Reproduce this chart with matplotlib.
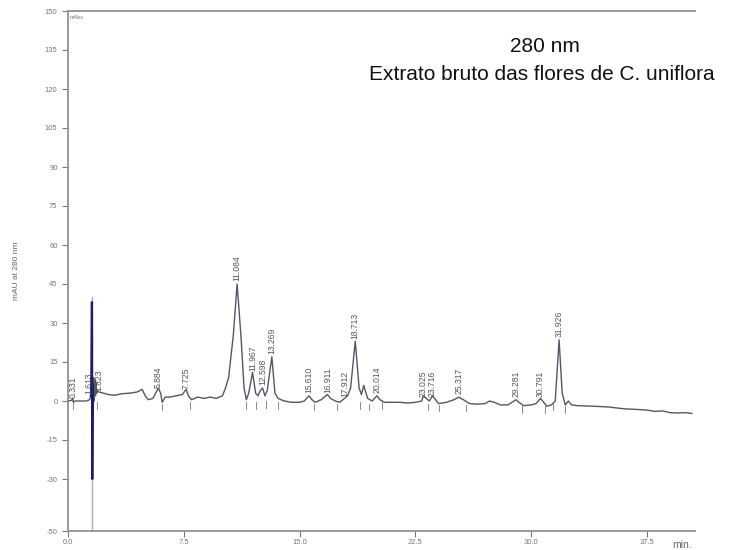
import matplotlib
matplotlib.use("Agg")
import matplotlib.pyplot as plt

# Chromatogram trace (time in min, absorbance in mAU)
trace_t = [0.0, 0.25, 0.3, 0.35, 0.45, 0.8, 1.2, 1.4, 1.48, 1.52, 1.55, 1.57, 1.6, 1.63, 1.66, 1.7, 1.74, 1.78,
           1.82, 1.86, 1.9, 2.0, 2.3, 2.6, 3.0, 3.5, 4.0, 4.5, 4.8, 5.0, 5.2, 5.5, 5.85, 6.0, 6.1, 6.3,
           6.6, 7.0, 7.4, 7.65, 7.8, 8.0, 8.4, 8.8, 9.2, 9.6, 10.0, 10.2, 10.4, 10.7, 10.95, 11.2, 11.4,
           11.55, 11.7, 11.95, 12.15, 12.3, 12.45, 12.6, 12.75, 12.9, 13.2, 13.4, 13.6, 14.0, 14.5, 15.0,
           15.3, 15.6, 15.8, 16.0, 16.4, 16.8, 17.0, 17.3, 17.6, 17.9, 18.1, 18.3, 18.6, 18.85, 19.0,
           19.15, 19.4, 19.7, 20.0, 20.2, 20.5, 21.0, 21.5, 22.0, 22.5, 22.9, 23.0, 23.2, 23.4, 23.6,
           23.8, 24.0, 24.5, 25.0, 25.3, 25.6, 26.0, 26.5, 27.0, 27.3, 27.6, 28.0, 28.5, 29.0, 29.2,
           29.5, 30.0, 30.3, 30.6, 30.8, 31.0, 31.3, 31.55, 31.8, 32.0, 32.2, 32.4, 32.6, 33.0, 34.0,
           35.0, 36.0, 37.0, 37.5, 38.0, 38.5, 39.0, 39.5, 40.0, 40.4]
trace_y = [0.0, 0.3, 1.0, -0.5, 0.0, 0.0, 0.0, 0.5, 2.0, 10.0, 38.0, -30.0, 6.0, -6.0, 9.0, 0.0, 8.0, 2.0,
           7.0, 3.0, 4.0, 3.5, 3.0, 2.5, 2.2, 2.8, 3.0, 3.5, 4.5, 2.0, 0.5, 1.0, 5.0, 3.0, -0.5, 1.5,
           1.5, 2.0, 2.5, 4.5, 2.0, 0.5, 1.5, 1.0, 1.5, 1.0, 2.0, 5.0, 9.0, 25.0, 45.0, 25.0, 5.0,
           0.5, 3.0, 11.0, 3.0, 2.0, 4.0, 5.0, 2.0, 4.0, 17.0, 3.0, 1.0, 0.0, -0.5, -0.5,
           0.0, 2.0, 0.5, -0.5, 0.5, 2.5, 1.0, 0.0, -0.5, 1.0, 2.0, 5.0, 23.0, 5.0, 2.5,
           6.0, 1.0, 0.0, 2.0, 0.5, -0.5, -0.5, -0.5, -0.8, -0.5, 0.0, 2.0, 1.0, 0.0, 2.0,
           0.5, -1.0, -0.5, 0.5, 1.5, 0.5, -1.0, -1.2, -1.0, 0.0, -0.5, -1.5, -1.5, 0.5, -0.5,
           -1.8, -1.5, -1.0, 1.0, -0.5, -2.0, -1.5, 0.0, 23.5, 3.0, -1.5, 0.0, -1.5, -1.8, -2.0,
           -2.3, -3.0, -3.3, -3.5, -4.0, -3.8, -4.5, -4.6, -4.5, -4.8]

# Peak annotations: retention time label, x position, label base (mAU)
peak_labels = ["0.331", "1.613", "1.823", "5.884", "7.725", "11.084", "11.967", "12.598", "13.269",
               "15.610", "16.911", "17.912", "18.713", "20.014", "23.025", "23.716", "25.317",
               "29.281", "30.791", "31.926"]
peak_t = [0.33, 1.38, 2.02, 5.85, 7.65, 10.95, 11.95, 12.6, 13.2, 15.6, 16.8, 17.9, 18.6, 20.0,
          23.0, 23.6, 25.3, 29.0, 30.6, 31.8]
peak_base = [1.0, 2.5, 4.0, 5.0, 4.5, 46.0, 11.5, 6.0, 18.0, 3.0, 3.0, 1.5, 24.0, 3.0,
             1.5, 1.5, 2.5, 1.5, 1.5, 24.5]

# Integration marks (time, bottom of mark in mAU)
mark_t = [0.33, 1.9, 6.1, 7.9, 11.5, 12.2, 12.8, 13.6, 15.9, 17.4, 18.9, 19.5, 20.3, 23.3, 24.0,
          25.8, 29.4, 30.9, 31.4, 32.2]
mark_bottom = [-3, -3, -3.5, -3, -3, -3, -2.5, -3, -3.5, -3.5, -3, -3.5, -3, -3.5, -4, -4, -4.5, -4.5, -3.5, -4.5]

y_ticks = [-50, -30, -15, 0, 15, 30, 45, 60, 75, 90, 105, 120, 135, 150]
x_ticks = [0.0, 7.5, 15.0, 22.5, 30.0, 37.5]

plt.rcParams['font.family'] = ['Liberation Sans', 'DejaVu Sans']
fig = plt.figure(figsize=(7.32, 5.5), dpi=100)
ax = fig.add_axes([68/732, 19/550, (695-68)/732, (531-11)/550])

# light vertical line at injection spike
ax.plot([1.55, 1.55], [-50, 40], color='#9fb3c0', lw=1.0, zorder=1)
ax.plot(trace_t, trace_y, color='#55556a', lw=1.0, zorder=3)
# dark spike overlay
spike_t = [1.48, 1.52, 1.55, 1.57, 1.6]
spike_y = [2.0, 10.0, 38.0, -30.0, 6.0]
ax.plot(spike_t, spike_y, color='#1c1c70', lw=1.6, zorder=4)

for t, b in zip(mark_t, mark_bottom):
    ax.plot([t, t], [b + 2.5, b], color='#777777', lw=0.6, zorder=2)

for lab, t, b in zip(peak_labels, peak_t, peak_base):
    ax.text(t, b, lab, rotation=90, fontsize=6.2, color='#555555', ha='center', va='bottom', zorder=5)

ax.set_xlim(0, 40.6)
ax.set_ylim(-50, 150)
ax.set_yticks(y_ticks)
ax.set_yticklabels([str(v) for v in y_ticks])
ax.set_xticks(x_ticks)
ax.set_xticklabels([f"{v:.1f}" for v in x_ticks])
ax.tick_params(axis='both', labelsize=5.5, colors='#777777', length=4, width=0.8)
ax.tick_params(axis='x', pad=2)
for s in ['left', 'bottom', 'top']:
    ax.spines[s].set_color('#999999')
    ax.spines[s].set_linewidth(1.4)
ax.spines['right'].set_visible(False)

ax.set_ylabel("mAU at 280 nm", fontsize=6, color='#666666', labelpad=18)
ax.text(0.003, 0.992, "mAbs", transform=ax.transAxes, fontsize=4, color='#777777', va='top', ha='left')
fig.text(682/732, 1 - 545/550, "min.", fontsize=7.5, color='#666666', ha='center', va='center')

fig.text(545/732, 1 - 46/550, "280 nm", fontsize=15, color='#111111', ha='center', va='center')
fig.text(542/732, 1 - 74/550, "Extrato bruto das flores de C. uniflora", fontsize=15, color='#111111',
         ha='center', va='center')

fig.savefig("out.png", dpi=100)
